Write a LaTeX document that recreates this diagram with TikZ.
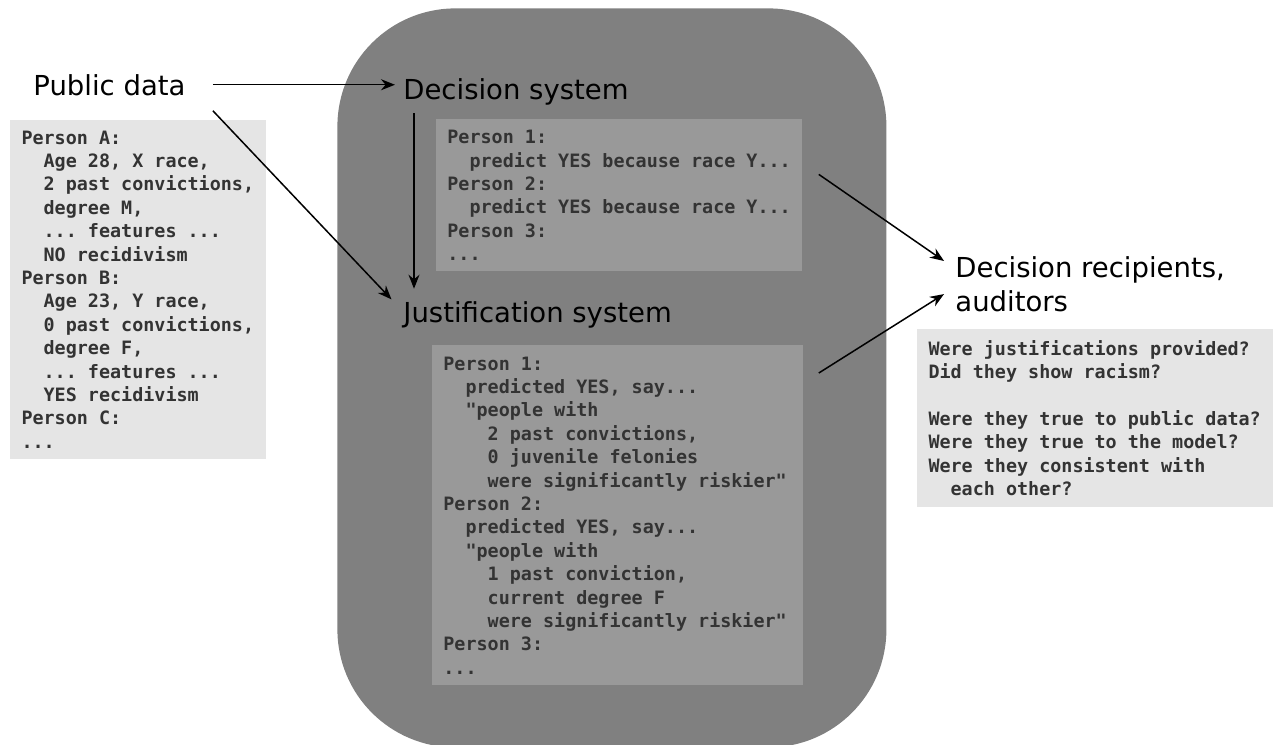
\documentclass[tikz,border=0pt]{standalone}
\usepackage{fontspec}
\setmainfont{DejaVu Sans}
\setmonofont{DejaVu Sans Mono}
\usetikzlibrary{positioning,arrows.meta}
\definecolor{sysgray}{HTML}{808080}
\definecolor{stagegray}{HTML}{999999}
\definecolor{paper}{HTML}{E5E5E5}
\definecolor{ink}{HTML}{333333}
\newcommand{\sk}{\phantom{00}}
\tikzset{
  heading/.style={inner sep=4pt, align=left, font=\fontsize{13.75}{17}\selectfont},
  codebox/.style={anchor=north west, inner xsep=5.5pt, inner ysep=0pt, align=left, text=ink,
    font=\fontsize{9.2}{11.7}\selectfont\ttfamily\bfseries,
    execute at begin node={\spaceskip=0pt\xspaceskip=0pt\relax}},
  flow/.style={-{Stealth[length=7pt,width=5.5pt]}, line width=0.75pt}
}
\begin{document}
\begin{tikzpicture}[x=0.5pt, y=-0.5pt]
  \useasboundingbox (0,0) rectangle (1273,744);
  \node[fill=sysgray, rounded corners=59pt, inner sep=0, anchor=north west,
        minimum width=274.5pt, minimum height=369.5pt] (sys) at (337,8) {};

  \node[heading, anchor=base west] (pub) at (25,95) {Public data};
  \node[heading, anchor=base west] (dec) at (395,99) {Decision system};
  \node[heading, anchor=base west] (just) at (395,322) {Justification system};
  \node[heading, anchor=north west] (rec) at (947,248) {Decision recipients,\\auditors};

  \node[codebox, fill=paper, draw=black!10, line width=0.5pt, text width=116.5pt, minimum height=169pt] (pubbox) at (10,120) {%
    Person A:\\
    \sk Age 28, X race,\\
    \sk 2 past convictions,\\
    \sk degree M,\\
    \sk ... features ...\\
    \sk NO recidivism\\
    Person B:\\
    \sk Age 23, Y race,\\
    \sk 0 past convictions,\\
    \sk degree F,\\
    \sk ... features ...\\
    \sk YES recidivism\\
    Person C:\\
    ...};
  \node[codebox, fill=stagegray, text width=172pt, minimum height=76pt] (decbox) at (436,119) {%
    Person 1:\\
    \sk predict YES because race Y...\\
    Person 2:\\
    \sk predict YES because race Y...\\
    Person 3:\\
    ...};
  \node[codebox, fill=stagegray, text width=174.5pt, minimum height=170pt] (justbox) at (432,345) {%
    Person 1:\\
    \sk predicted YES, say...\\
    \sk "people with\\
    \sk\sk 2 past convictions,\\
    \sk\sk 0 juvenile felonies\\
    \sk\sk were significantly riskier"\\
    Person 2:\\
    \sk predicted YES, say...\\
    \sk "people with\\
    \sk\sk 1 past conviction,\\
    \sk\sk current degree F\\
    \sk\sk were significantly riskier"\\
    Person 3:\\
    ...};
  \node[codebox, fill=paper, draw=black!10, line width=0.5pt, text width=167pt, minimum height=88.5pt] (askbox) at (917,329) {%
    Were justifications provided?\\
    Did they show racism?\\[11.7pt]
    Were they true to public data?\\
    Were they true to the model?\\
    Were they consistent with\\
    \sk each other?};

  % data flow
  \draw[flow] ([xshift=9.5pt]pub.east) -- (pub.east -| dec.west);
  \draw[flow] ([shift={(9.5pt,-13pt)}]pub.east) -- ([shift={(-1.75pt,7.5pt)}]just.west);
  \draw[flow] ([xshift=9.5pt]dec.south west) -- ([shift={(9.5pt,2pt)}]just.north west);
  \draw[flow] ([shift={(8pt,10.5pt)}]decbox.east) -- ([shift={(-1.5pt,-6.5pt)}]rec.north west);
  \draw[flow] ([shift={(7.5pt,-14pt)}]justbox.north east) -- ([shift={(-1.5pt,13pt)}]rec.south west);
\end{tikzpicture}
\end{document}
